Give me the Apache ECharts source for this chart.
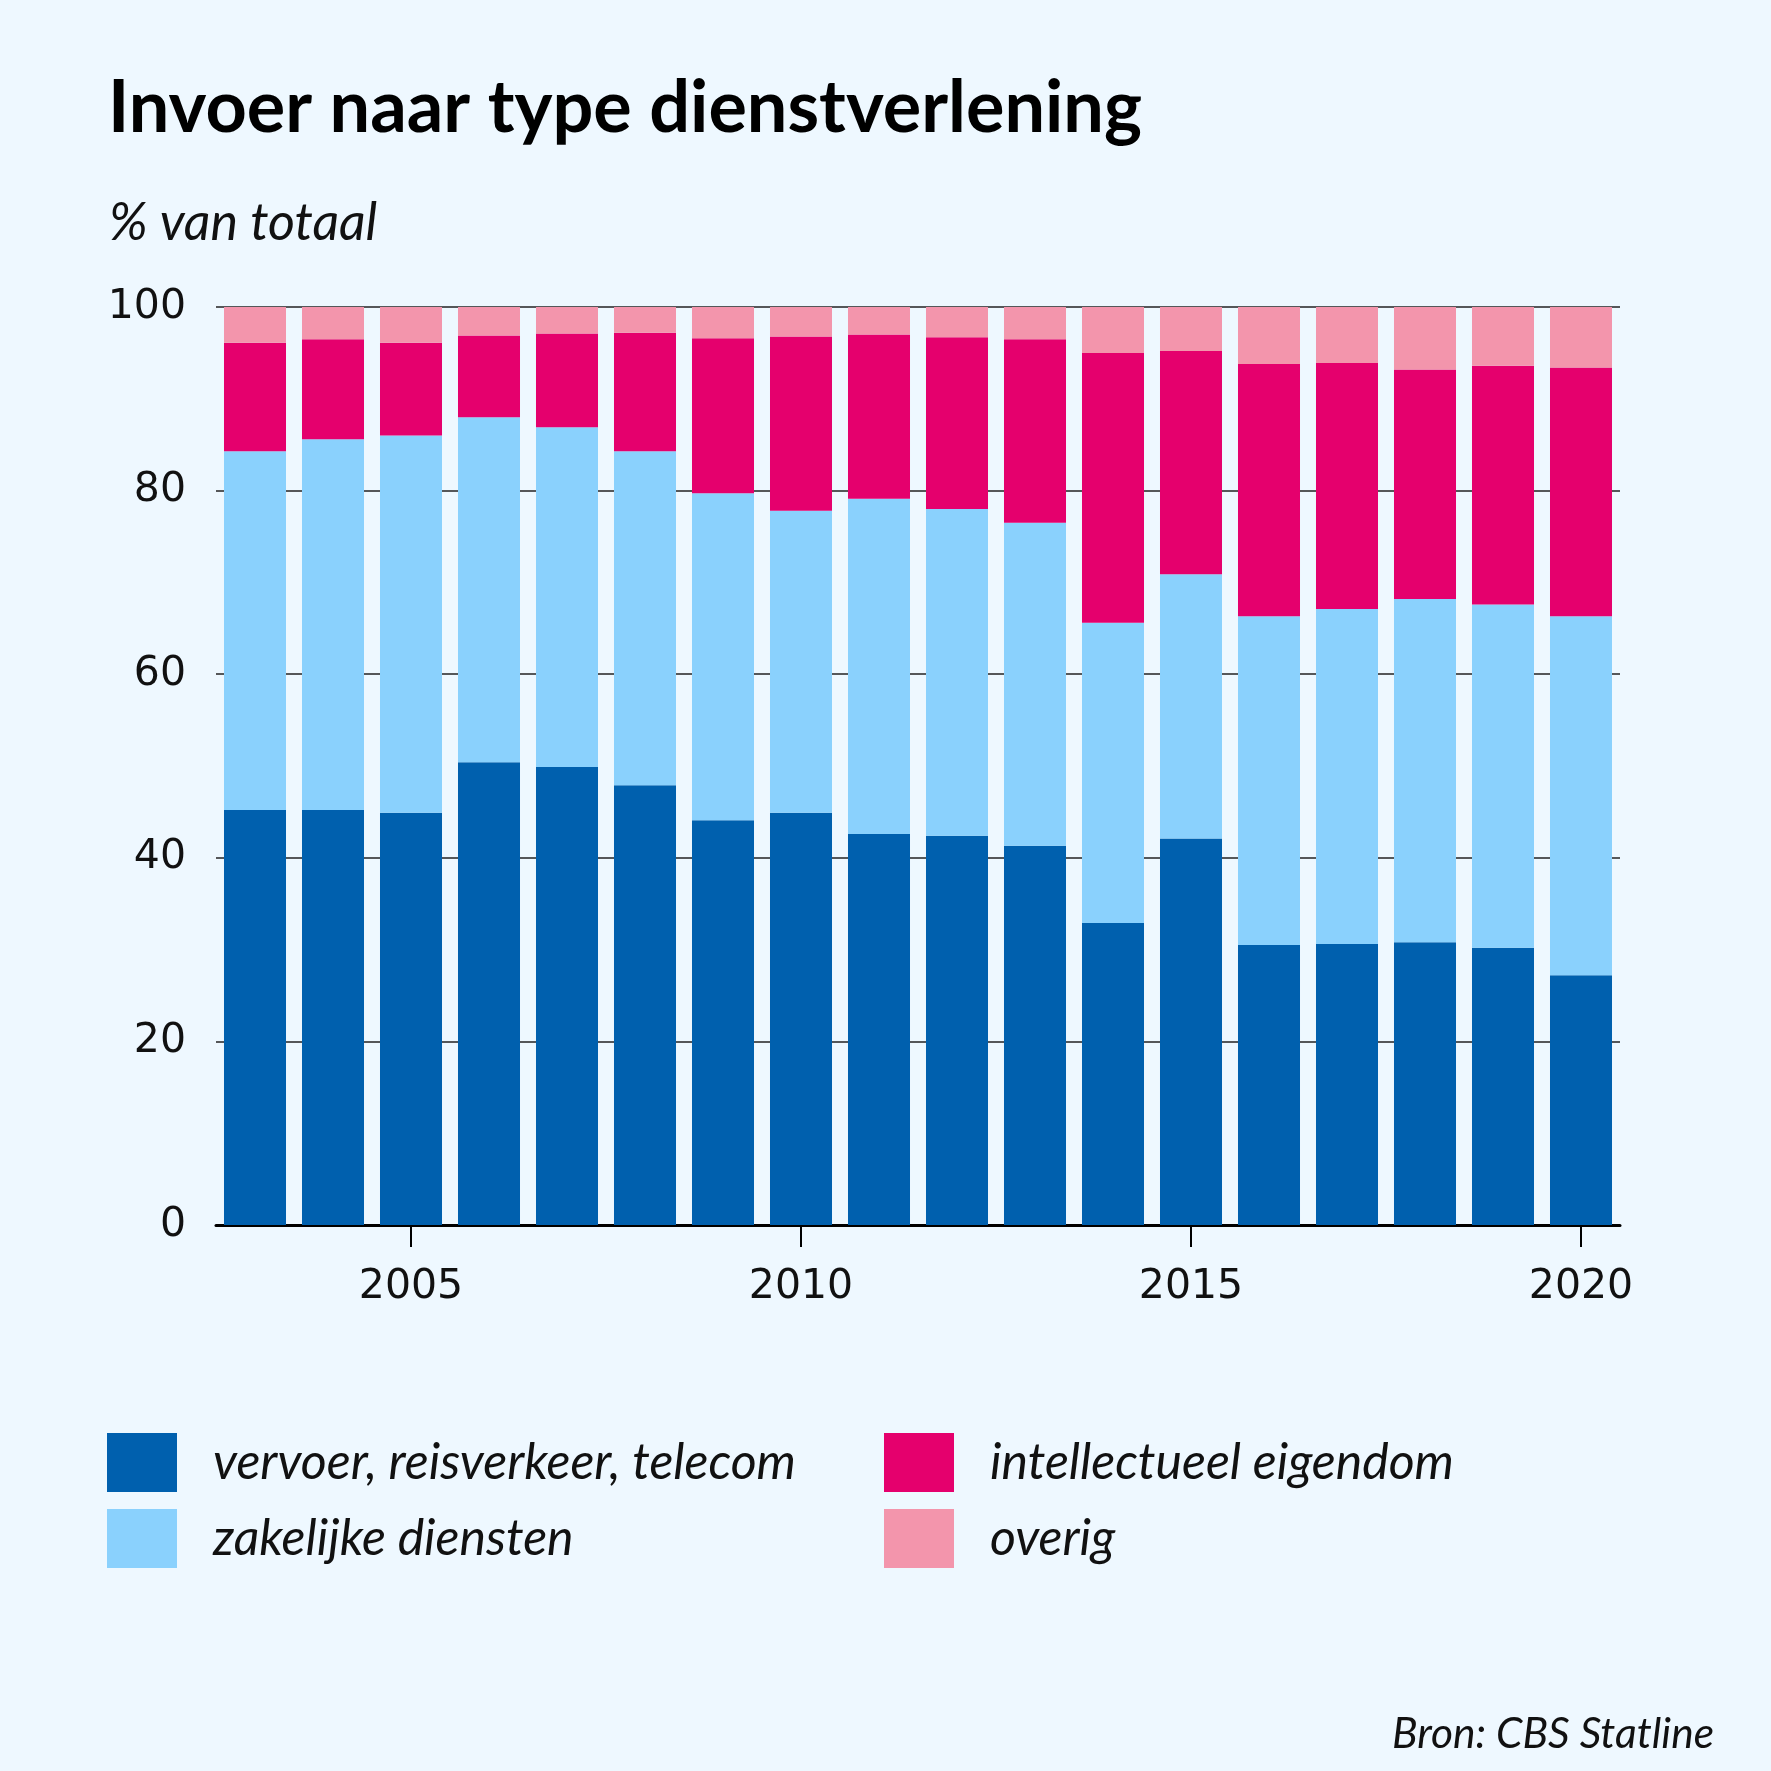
<!DOCTYPE html>
<html>
<head>
<meta charset="utf-8">
<script src="https://cdn.jsdelivr.net/npm/echarts@6/dist/echarts.min.js"></script>
<style>
html,body{margin:0;padding:0;background:#eef8ff;}
#chart{width:1771px;height:1771px;}
</style>
</head>
<body>
<div id="chart"></div>
<script>
var years = ['2003','2004','2005','2006','2007','2008','2009','2010','2011','2012','2013','2014','2015','2016','2017','2018','2019','2020'];
var vervoer = [45.2,45.2,44.9,50.4,49.9,47.9,44.1,44.9,42.6,42.4,41.3,32.9,42.1,30.5,30.6,30.8,30.2,27.2];
var zakelijk = [39.1,40.4,41.1,37.6,37.0,36.4,35.6,32.9,36.5,35.6,35.2,32.7,28.8,35.8,36.5,37.4,37.4,39.1];
var intellectueel = [11.8,10.9,10.1,8.9,10.2,12.9,16.9,19.0,17.9,18.7,20.0,29.4,24.3,27.5,26.8,25.0,26.0,27.1];
var overig = [3.9,3.5,3.9,3.1,2.9,2.8,3.4,3.2,3.0,3.3,3.5,5.0,4.8,6.2,6.1,6.8,6.4,6.6];
var yTicks = [0,20,40,60,80,100];
var seriesNames = ['vervoer, reisverkeer, telecom','zakelijke diensten','intellectueel eigendom','overig'];
var colors = ['#0060ae','#8ad1fd','#e5006d','#f395ac'];

var chart = echarts.init(document.getElementById('chart'));
var fam = 'Lato, "Noto Sans", sans-serif';
var numFam = '"DejaVu Sans", sans-serif';
function showYear(idx, val){ return (+val) % 5 === 0; }
var legendText = {fontFamily: fam, fontStyle:'italic', fontSize:50, color:'#111', padding:[0,0,0,31]};
chart.setOption({
  backgroundColor:'#eef8ff',
  animation:false,
  color: colors,
  title:[
    {text:'Invoer naar type dienstverlening', left:103, top:68,
     textStyle:{fontFamily:fam, fontWeight:'bold', fontSize:72, color:'#000'}},
    {text:'% van totaal', left:104, top:192,
     textStyle:{fontFamily:fam, fontStyle:'italic', fontWeight:'normal', fontSize:52, color:'#111'}},
    {text:'Bron: CBS Statline', right:52, top:1708,
     textStyle:{fontFamily:fam, fontStyle:'italic', fontWeight:'normal', fontSize:42.5, color:'#111'}}
  ],
  legend:[
    {data:[seriesNames[0],seriesNames[1]], orient:'vertical', left:102, top:1428,
     itemWidth:70, itemHeight:59, itemGap:17, icon:'rect', textStyle:legendText},
    {data:[seriesNames[2],seriesNames[3]], orient:'vertical', left:879, top:1428,
     itemWidth:70, itemHeight:59, itemGap:17, icon:'rect', textStyle:legendText}
  ],
  grid:{left:216, right:151, top:307, bottom:546},
  xAxis:{
    type:'category', data:years,
    axisLine:{show:true, lineStyle:{color:'#000', width:3}},
    axisTick:{show:true, alignWithLabel:true, interval:showYear, length:22, lineStyle:{color:'#000', width:2}},
    axisLabel:{interval:showYear, margin:42, fontFamily:numFam, fontSize:41, color:'#111'},
    splitLine:{show:false}
  },
  yAxis:{
    type:'value', min:yTicks[0], max:yTicks[yTicks.length-1], interval:20,
    axisLine:{show:false}, axisTick:{show:false},
    axisLabel:{margin:30, fontFamily:numFam, fontSize:41, color:'#111'},
    splitLine:{show:true, lineStyle:{color:'#222', width:1.5}}
  },
  series:[
    {name:seriesNames[0], type:'bar', stack:'a', data:vervoer, barCategoryGap:'20.5%'},
    {name:seriesNames[1], type:'bar', stack:'a', data:zakelijk},
    {name:seriesNames[2], type:'bar', stack:'a', data:intellectueel},
    {name:seriesNames[3], type:'bar', stack:'a', data:overig}
  ]
});
</script>
</body>
</html>
